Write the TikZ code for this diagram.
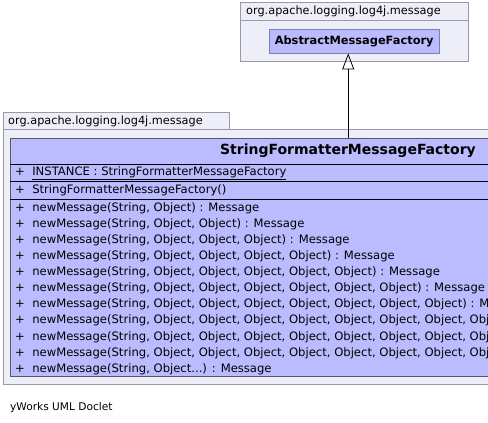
\documentclass[tikz,border=0pt]{standalone}
\usepackage{fontspec}
\usepackage{tikz}
\usetikzlibrary{arrows.meta,positioning}
\newfontfamily\umlfont{DejaVu Sans}
\definecolor{pkgfill}{HTML}{EEEEF9}
\definecolor{pkgline}{HTML}{9A9AA6}
\definecolor{classfill}{HTML}{BBBBFF}
\definecolor{classline}{HTML}{8080B0}
\newcommand{\objdots}{Object...}

\begin{document}
\begin{tikzpicture}[x=1pt,y=-1pt,
    every node/.style={font=\umlfont\fontsize{11.6}{13}\selectfont,inner sep=0pt},
    pkgbox/.style={draw=pkgline,fill=pkgfill,anchor=north west},
    classbox/.style={draw=classline,fill=classfill,anchor=north west},
    member/.style={anchor=west}]
  \useasboundingbox (0,0) rectangle (488,423);
  \clip (0,0) rectangle (488,423);
  % upper package
  \node[pkgbox,minimum width=228,minimum height=18] (toptab) at (240,2) {};
  \node[pkgbox,minimum width=228,minimum height=41] (toppkg) at (240,20) {};
  \node[anchor=west,font=\umlfont\fontsize{11.3}{13}\selectfont] (toplab) at (246,11) {org.apache.logging.log4j.message};
  \node[classbox,minimum width=170,minimum height=24] (amf) at (269,29) {};
  \node[font=\umlfont\bfseries\fontsize{11.4}{13}\selectfont] (amflab) at (amf.center) {AbstractMessageFactory};
  % lower package
  \node[pkgbox,minimum width=226,minimum height=18] (bottab) at (3,112) {};
  \node[pkgbox,minimum width=700,minimum height=255] (botpkg) at (3,129) {};
  \node[anchor=west,font=\umlfont\fontsize{11.3}{13}\selectfont] (botlab) at (8,121) {org.apache.logging.log4j.message};
  \node[classbox,draw=black!65,minimum width=676,minimum height=238] (sfmf) at (10,138) {};
  \node[font=\umlfont\bfseries\fontsize{14}{16}\selectfont] (sfmflab) at (348,151) {StringFormatterMessageFactory};
  \draw (10,164) -- (686,164);
  \draw (10,181) -- (686,181);
  \draw (10,199) -- (686,199);
  \node[member] (inst) at (15,173) {+\ \ \underline{INSTANCE : StringFormatterMessageFactory}};
  \node[member] (ctor) at (15,190) {+\ \ StringFormatterMessageFactory()};
  \foreach \args [count=\i] in {%
      {Object},
      {Object, Object},
      {Object, Object, Object},
      {Object, Object, Object, Object},
      {Object, Object, Object, Object, Object},
      {Object, Object, Object, Object, Object, Object},
      {Object, Object, Object, Object, Object, Object, Object},
      {Object, Object, Object, Object, Object, Object, Object, Object},
      {Object, Object, Object, Object, Object, Object, Object, Object, Object},
      {Object, Object, Object, Object, Object, Object, Object, Object, Object, Object},
      {\objdots}%
    } {
      \node[member] (m\i) at (15,{208+(\i-1)*16.1}) {+\ \ newMessage(String, \args) : Message};
    }
  % generalization
  \draw[-{Triangle[open,length=16pt,width=12pt]},line width=0.8pt] (sfmf.north) -- (sfmf.north |- amf.south);
  \node[anchor=west,font=\umlfont\fontsize{10.6}{12}\selectfont] (doclet) at (10,408) {yWorks UML Doclet};
\end{tikzpicture}
\end{document}
